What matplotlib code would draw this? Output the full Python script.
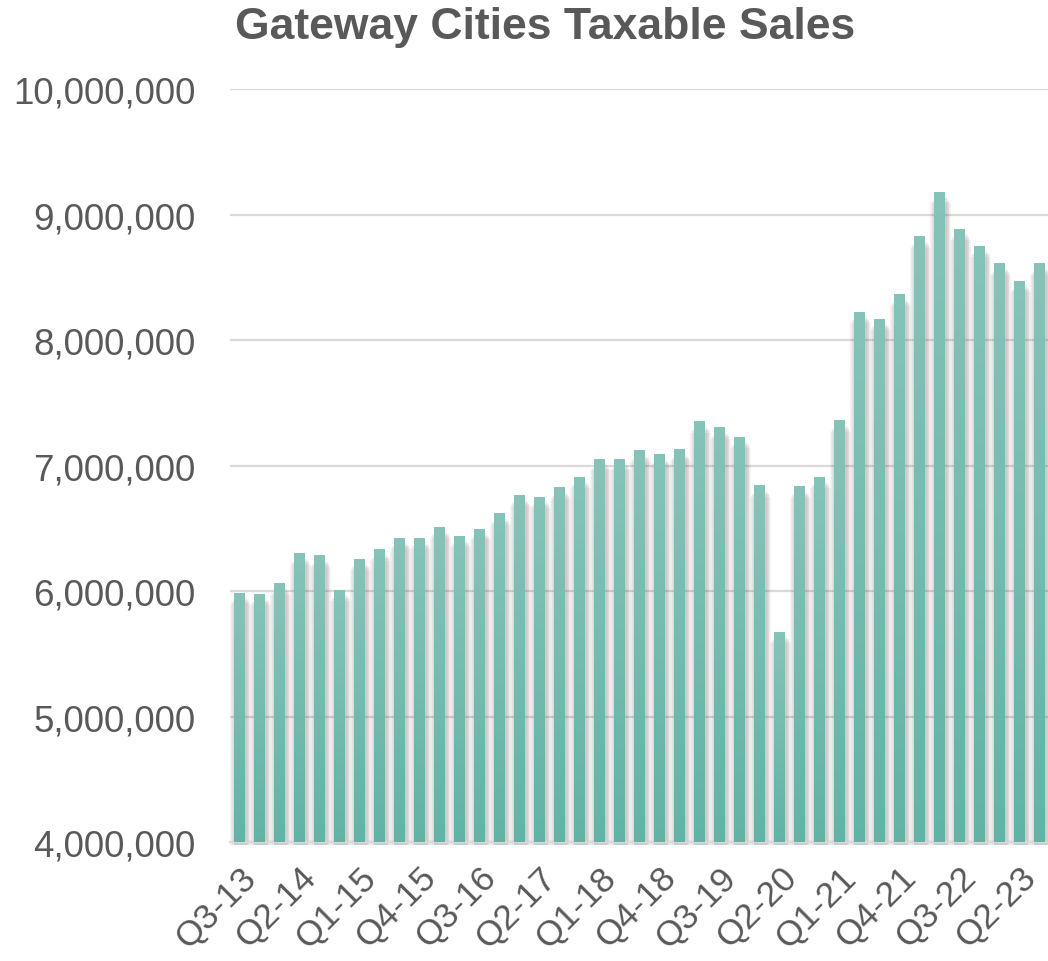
import numpy as np
import matplotlib
matplotlib.use("Agg")
import matplotlib.pyplot as plt
from matplotlib.colors import LinearSegmentedColormap

plt.rcParams['font.family'] = ['Liberation Sans', 'DejaVu Sans']

# quarterly taxable sales, Q3-13 .. Q3-23
quarters = ['Q3-13', 'Q4-13', 'Q1-14', 'Q2-14', 'Q3-14', 'Q4-14', 'Q1-15', 'Q2-15',
            'Q3-15', 'Q4-15', 'Q1-16', 'Q2-16', 'Q3-16', 'Q4-16', 'Q1-17', 'Q2-17',
            'Q3-17', 'Q4-17', 'Q1-18', 'Q2-18', 'Q3-18', 'Q4-18', 'Q1-19', 'Q2-19',
            'Q3-19', 'Q4-19', 'Q1-20', 'Q2-20', 'Q3-20', 'Q4-20', 'Q1-21', 'Q2-21',
            'Q3-21', 'Q4-21', 'Q1-22', 'Q2-22', 'Q3-22', 'Q4-22', 'Q1-23', 'Q2-23',
            'Q3-23']
sales = [5984000, 5976000, 6056000, 6295000, 6280000, 6008000, 6255000, 6327000,
         6422000, 6422000, 6510000, 6438000, 6494000, 6614000, 6765000, 6749000,
         6821000, 6908000, 7046000, 7048000, 7116000, 7084000, 7124000, 7347000,
         7299000, 7227000, 6837000, 5673000, 6829000, 6908000, 7355000, 8223000,
         8167000, 8359000, 8821000, 9175000, 8884000, 8749000, 8606000, 8470000,
         8606000]

text_col = '#595959'
ymin, ymax = 4000000, 10000000

fig = plt.figure(figsize=(10.48, 9.62), dpi=100)
ax = fig.add_axes([0.2195, 0.1237, 0.7805, 0.7827])

x = np.arange(len(sales))
bw = 0.55
vals = np.array(sales)

# soft drop shadow: stacked translucent gray bars, a bit wider each time
for k in range(6):
    w = bw + 0.08 * (k + 1)
    ax.bar(x + 0.06, vals - ymin - 10000 * (k + 1), bottom=ymin - 25000, width=w,
           color='#606060', alpha=0.06, linewidth=0, zorder=2, clip_on=False)

# bars with a vertical gradient
cmap = LinearSegmentedColormap.from_list('teal', ['#62b3a6', '#86c3b9'])
grad = np.linspace(0, 1, 256).reshape(-1, 1)
for xi, v in zip(x, sales):
    ax.imshow(grad, cmap=cmap, origin='lower', aspect='auto',
              extent=(xi - bw / 2, xi + bw / 2, ymin, v), zorder=3)

ax.set_xlim(-0.475, 40.425)
ax.set_ylim(ymin, ymax)

ax.set_yticks(np.arange(ymin, ymax + 1, 1000000))
ax.set_yticklabels([f'{v:,}' for v in range(ymin, ymax + 1, 1000000)])
ax.yaxis.grid(True, color='#d9d9d9', linewidth=1.6, zorder=1)
ax.set_axisbelow(True)

ax.set_xticks(x[::3])
ax.set_xticklabels(quarters[::3], rotation=45, ha='right', rotation_mode='anchor')
ax.tick_params(axis='both', length=0, labelsize=26.5, colors=text_col)
ax.tick_params(axis='y', pad=25)
ax.tick_params(axis='x', pad=13)
for lab in ax.get_xticklabels():
    lab.set_fontsize(25.5)

for s in ['top', 'right', 'left']:
    ax.spines[s].set_visible(False)
ax.spines['bottom'].set_color('#d9d9d9')
ax.spines['bottom'].set_linewidth(1.6)

fig.text(0.52, 1 - 28 / 962, 'Gateway Cities Taxable Sales', ha='center', va='center',
         fontsize=32, fontweight='bold', color=text_col)

fig.savefig('out.png', dpi=100)
